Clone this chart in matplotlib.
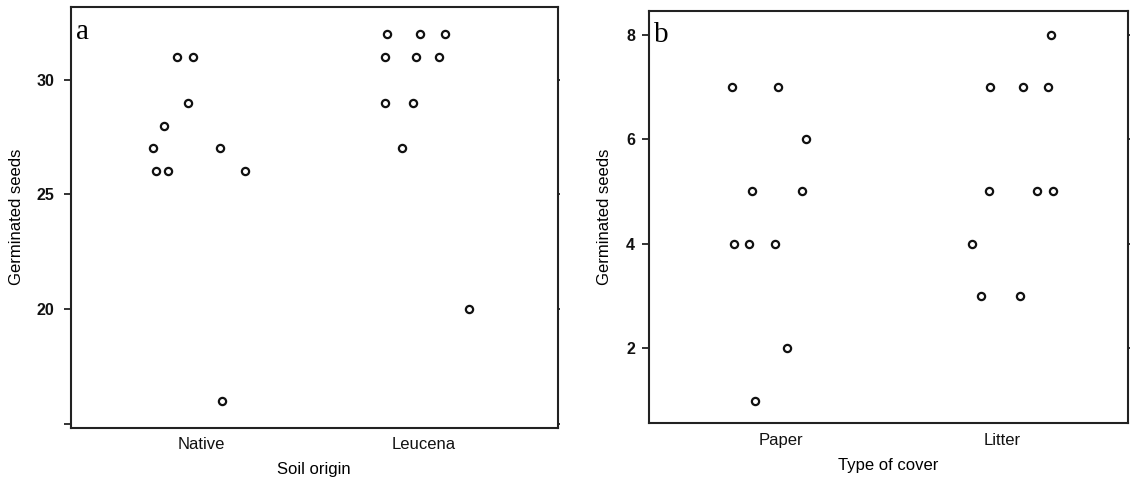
import matplotlib
matplotlib.use("Agg")
import matplotlib.pyplot as plt

plt.rcParams['font.family'] = ['Liberation Sans', 'DejaVu Sans']
plt.rcParams['font.size'] = 12

# panel a: soil origin
soil_groups = ["Native", "Leucena"]
native_x = [0.890, 0.961, 0.938, 0.830, 0.782, 1.084, 0.793, 0.848, 1.193, 1.091]
native_y = [31, 31, 29, 28, 27, 27, 26, 26, 26, 16]
leucena_x = [1.834, 1.982, 2.094, 1.823, 1.963, 2.067, 1.823, 1.952, 1.900, 2.201]
leucena_y = [32, 32, 32, 31, 31, 31, 29, 29, 27, 20]
a_ticks = [15, 20, 25, 30]
a_ticklabels = ["", "20", "25", "30"]

# panel b: type of cover
cover_groups = ["Paper", "Litter"]
paper_x = [0.782, 0.986, 1.114, 0.872, 1.095, 0.791, 0.856, 0.973, 1.030, 0.884]
paper_y = [7, 7, 6, 5, 5, 4, 4, 4, 2, 1]
litter_x = [2.218, 1.946, 2.092, 2.208, 1.939, 2.155, 2.230, 1.862, 1.904, 2.080]
litter_y = [8, 7, 7, 7, 5, 5, 5, 4, 3, 3]
b_ticks = [2, 4, 6, 8]

fig = plt.figure(figsize=(11.3, 4.83), dpi=100)
ax1 = fig.add_axes([0.0628, 0.1149, 0.4307, 0.8706])
ax2 = fig.add_axes([0.5743, 0.1232, 0.4239, 0.8540])

mk = dict(marker='o', linestyle='none', markersize=5.2, markerfacecolor='white',
          markeredgecolor='#111111', markeredgewidth=1.6)


def style(ax, ypad, labpad):
    for s in ax.spines.values():
        s.set_linewidth(1.5)
        s.set_color('#222222')
    ax.tick_params(axis='x', length=0, pad=7, labelsize=12, colors='#111111')
    ax.tick_params(axis='y', left=True, right=True, direction='out', length=5,
                   width=1.2, pad=ypad, labelsize=11.5, colors='#111111')
    for t in ax.yaxis.get_major_ticks():
        t.tick2line.set_markersize(1.5)
    for lab in ax.get_yticklabels():
        lab.set_fontweight('bold')
    ax.yaxis.labelpad = labpad


ax1.plot(native_x, native_y, **mk)
ax1.plot(leucena_x, leucena_y, **mk)
ax1.set_xlim(0.412, 2.601)
ax1.set_ylim(14.85, 33.16)
ax1.set_xticks([1, 2])
ax1.set_xticklabels(soil_groups)
ax1.set_yticks(a_ticks)
ax1.set_yticklabels(a_ticklabels)
ax1.set_xlabel("Soil origin", labelpad=7)
ax1.set_ylabel("Germinated seeds")
style(ax1, 7, 9)
ax1.text(0.010, 0.923, "a", transform=ax1.transAxes, fontsize=21,
         family='Liberation Serif', va='baseline', ha='left')

ax2.plot(paper_x, paper_y, **mk)
ax2.plot(litter_x, litter_y, **mk)
ax2.set_xlim(0.406, 2.567)
ax2.set_ylim(0.563, 8.45)
ax2.set_xticks([1, 2])
ax2.set_xticklabels(cover_groups)
ax2.set_yticks(b_ticks)
ax2.set_xlabel("Type of cover", labelpad=7)
ax2.set_ylabel("Germinated seeds")
style(ax2, 5, 10)
ax2.text(0.011, 0.926, "b", transform=ax2.transAxes, fontsize=21,
         family='Liberation Serif', va='baseline', ha='left')

fig.savefig("out.png", dpi=100)
